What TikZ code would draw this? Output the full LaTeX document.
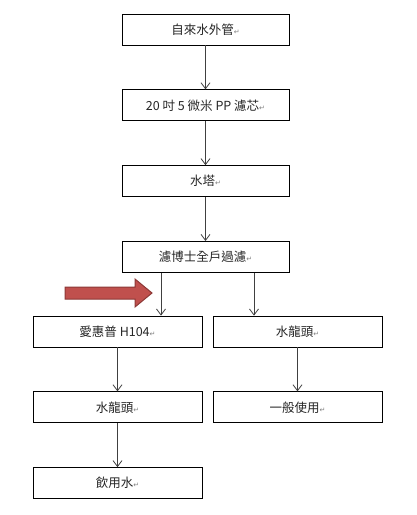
\documentclass[tikz,border=0pt]{standalone}
\usepackage{fontspec}
\setmainfont{Noto Sans CJK TC}
\newfontfamily\markfont{DejaVu Sans}
\usetikzlibrary{arrows.meta, positioning}
\definecolor{linegray}{RGB}{64, 64, 64}
\definecolor{textgray}{RGB}{38, 38, 38}
\definecolor{arrowred}{RGB}{192, 80, 77}
\definecolor{arrowedge}{RGB}{140, 56, 54}
\newcommand{\parmark}{{\markfont\fontsize{7}{8}\selectfont\color{gray}↵}}

\begin{document}
\begin{tikzpicture}[
    x=1pt, y=-1pt,
    node distance=44pt,
    stepbox/.style={rectangle, draw=black, fill=white, line width=0.8pt, minimum width=167pt, minimum height=31pt, inner sep=0pt, text=textgray, font=\fontsize{12.5}{15}\selectfont},
    widebox/.style={stepbox, minimum width=169pt},
    conn/.style={draw=linegray, line width=0.8pt, -{Straight Barb[length=6pt, width=9pt]}},
    bigarrow/.style={fill=arrowred, draw=arrowedge, line width=1pt, line join=miter}
]
    \useasboundingbox (0,0) rectangle (416,515);

    % Main chain
    \node (pipe) [stepbox] at (205.5,29.5) {自來水外管\parmark};
    \node (ppfilter) [stepbox, below=of pipe] {20 吋 5 微米 PP 濾芯\parmark};
    \node (tower) [stepbox, below=of ppfilter] {水塔\parmark};
    \node (house) [stepbox, below=of tower] {濾博士全戶過濾\parmark};

    % Left branch (drinking)
    \node (purifier) [widebox] at (117.5,331.5) {愛惠普 H104\parmark};
    \node (tapleft) [widebox, below=of purifier] {水龍頭\parmark};
    \node (drink) [widebox, below=of tapleft] {飲用水\parmark};

    % Right branch (general use)
    \node (tapright) [widebox] at (297.5,331.5) {水龍頭\parmark};
    \node (general) [widebox, below=of tapright] {一般使用\parmark};

    % Connectors
    \draw [conn] (pipe) -- (ppfilter);
    \draw [conn] (ppfilter) -- (tower);
    \draw [conn] (tower) -- (house);
    \draw [conn] ([xshift=-44.5pt]house.south) -- ([xshift=-44.5pt]house.south |- purifier.north);
    \draw [conn] ([xshift=48.5pt]house.south) -- ([xshift=48.5pt]house.south |- tapright.north);
    \draw [conn] (purifier) -- (tapleft);
    \draw [conn] (tapleft) -- (drink);
    \draw [conn] (tapright) -- (general);

    % Highlight arrow
    \draw [bigarrow] (65,287) -- (135,287) -- (135,279) -- (152,293) -- (135,307) -- (135,299) -- (65,299) -- cycle;
\end{tikzpicture}
\end{document}
